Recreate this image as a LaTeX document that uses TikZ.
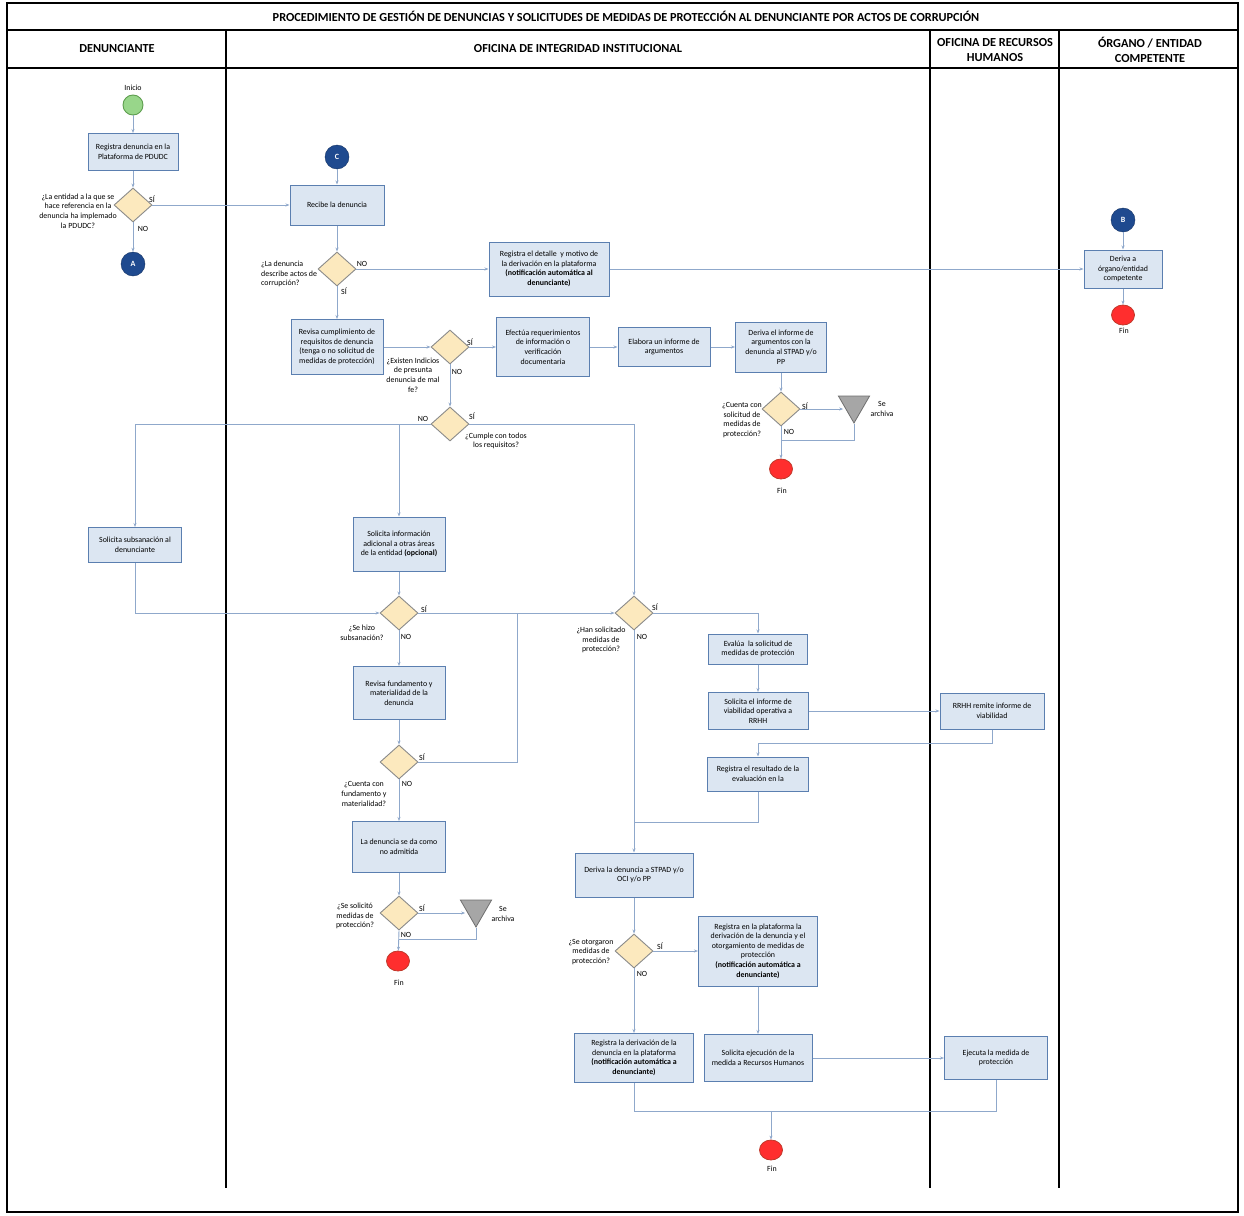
\documentclass[tikz,border=0pt]{standalone}
\usepackage{fontspec}
\setmainfont{Carlito}
\usetikzlibrary{shapes.geometric,arrows.meta}
\definecolor{boxf}{HTML}{DCE6F2}
\definecolor{boxb}{HTML}{5B7FB0}
\definecolor{diaf}{HTML}{FCE9BE}
\definecolor{diab}{HTML}{8A8A8A}
\definecolor{connc}{HTML}{8FA8CB}
\definecolor{navy}{HTML}{1F4A8F}
\definecolor{startf}{HTML}{98D68A}
\definecolor{startb}{HTML}{5E9E4F}
\definecolor{finf}{HTML}{FF2E2E}
\definecolor{finb}{HTML}{C0392B}
\definecolor{trif}{HTML}{A6A6A6}
\definecolor{trib}{HTML}{6F6F6F}
\begin{document}
\begin{tikzpicture}[x=1pt,y=-1pt,
  font=\fontsize{7.9}{9.6}\selectfont,
  box/.style={draw=boxb, fill=boxf, line width=1pt, align=center, inner sep=1pt},
  dia/.style={diamond, draw=diab, fill=diaf, line width=0.9pt, minimum width=38, minimum height=34, inner sep=0},
  lbl/.style={align=center, inner sep=0},
  hdr/.style={align=center, inner sep=0, font=\fontsize{12.3}{15.5}\selectfont\bfseries},
  conc/.style={circle, fill=navy, draw=navy!70!black, minimum size=24, inner sep=0, text=white, font=\fontsize{8}{9}\selectfont\bfseries},
  startc/.style={circle, fill=startf, draw=startb, line width=0.9pt, minimum size=20, inner sep=0},
  finc/.style={ellipse, fill=finf, draw=finb, line width=0.8pt, minimum width=23, minimum height=20, inner sep=0},
  tri/.style={regular polygon, regular polygon sides=3, shape border rotate=180, minimum size=36, inner sep=0, fill=trif, draw=trib, line width=0.8pt},
  conn/.style={draw=connc, line width=0.9pt},
  arr/.style={conn, -{Stealth[length=4pt,width=3pt]}},
  lane/.style={draw=black, line width=1.3pt}
]
\useasboundingbox (0,0) rectangle (1244,1215);
\fill[white] (0,0) rectangle (1244,1215);
% frame and lanes
\draw[lane] (7,3) rectangle (1238,1212);
\draw[lane] (7,30) -- (1238,30);
\draw[lane] (7,68) -- (1238,68);
\draw[lane] (226,30) -- (226,1188);
\draw[lane] (930,30) -- (930,1188);
\draw[lane] (1059,30) -- (1059,1188);
\node[hdr] (title) at (626,16) {PROCEDIMIENTO DE GESTIÓN DE DENUNCIAS Y SOLICITUDES DE MEDIDAS DE PROTECCIÓN AL DENUNCIANTE POR ACTOS DE CORRUPCIÓN};
\node[hdr] (h1) at (117,49) {DENUNCIANTE};
\node[hdr] (h2) at (578,49) {OFICINA DE INTEGRIDAD INSTITUCIONAL};
\node[hdr] (h3) at (995,50) {OFICINA DE RECURSOS\\HUMANOS};
\node[hdr] (h4) at (1150,50) {ÓRGANO / ENTIDAD\\COMPETENTE};

% left lane
\node[startc] (inicio) at (133,105) {};
\node[lbl] (tinicio) at (133,88) {Inicio};
\node[box, minimum width=90, minimum height=37] (b1) at (133,152) {Registra denuncia en la\\Plataforma de PDUDC};
\node[dia] (d1) at (133,205) {};
\node[lbl] (q1) at (78,211) {¿La entidad a la que se\\hace referencia en la\\denuncia ha implemado\\la PDUDC?};
\node[lbl] (s1) at (152,199) {SÍ};
\node[lbl] (n1) at (143,229) {NO};
\node[conc] (cA) at (133,264) {A};

% center top
\node[conc] (cC) at (337,157) {C};
\node[box, minimum width=94, minimum height=40] (brec) at (337,205) {Recibe la denuncia};
\node[dia] (d2) at (337,269) {};
\node[lbl, align=left, anchor=west] (q2) at (261,274) {¿La denuncia\\describe actos de\\corrupción?};
\node[lbl] (n2) at (362,264) {NO};
\node[lbl] (s2) at (344,291) {SÍ};
\node[box, minimum width=120, minimum height=54] (bregdet) at (549,269) {Registra el detalle \ y motivo de\\la derivación en la plataforma\\\textbf{(notificación automática al}\\\textbf{denunciante)}};
\node[conc] (cB) at (1123,220) {B};
\node[box, minimum width=78, minimum height=38] (bderiva) at (1123,269) {Deriva a\\órgano/entidad\\competente};
\node[finc] (fin0) at (1123,315) {};
\node[lbl] (tfin0) at (1124,331) {Fin};

\node[box, minimum width=92, minimum height=55] (brevisa) at (337,347) {Revisa cumplimiento de\\requisitos de denuncia\\(tenga o no solicitud de\\medidas de protección)};
\node[dia] (d3) at (450,347) {};
\node[lbl] (q3) at (413,375) {¿Existen Indicios\\de presunta\\denuncia de mal\\fe?};
\node[lbl] (s3) at (470,342) {SÍ};
\node[lbl] (n3) at (457,372) {NO};
\node[box, minimum width=93, minimum height=59] (befect) at (543,347) {Efectúa requerimientos\\de información o\\verificación\\documentaria};
\node[box, minimum width=92, minimum height=39] (belab) at (664,347) {Elabora un informe de\\argumentos};
\node[box, minimum width=91, minimum height=50] (bderinf) at (781,347) {Deriva el informe de\\argumentos con la\\denuncia al STPAD y/o\\PP};
\node[dia] (d4) at (781,409) {};
\node[lbl] (q4) at (742,420) {¿Cuenta con\\solicitud de\\medidas de\\protección?};
\node[lbl] (s4) at (805,406) {SÍ};
\node[lbl] (n4) at (789,432) {NO};
\node[tri] (t1) at (854,405) {};
\node[lbl] (ta1) at (882,409) {Se\\archiva};
\node[finc] (fin1) at (781,469) {};
\node[lbl] (tfin1) at (782,491) {Fin};

\node[dia] (d5) at (450,424) {};
\node[lbl] (n5) at (423,419) {NO};
\node[lbl] (s5) at (472,416) {SÍ};
\node[lbl] (q5) at (496,441) {¿Cumple con todos\\los requisitos?};
\coordinate (j5) at (399,424);

\node[box, minimum width=93, minimum height=35] (bsubs) at (135,545) {Solicita subsanación al\\denunciante};
\node[box, minimum width=92, minimum height=54] (binfo) at (399,544) {Solicita información\\adicional a otras áreas\\de la entidad \textbf{(opcional)}};
\node[dia] (d6) at (399,613) {};
\node[lbl] (s6) at (424,609) {SÍ};
\node[lbl] (n6) at (406,637) {NO};
\node[lbl] (q6) at (362,633) {¿Se hizo\\subsanación?};
\node[dia] (d7) at (634,613) {};
\node[lbl] (s7) at (655,607) {SÍ};
\node[lbl] (n7) at (642,637) {NO};
\node[lbl] (q7) at (601,640) {¿Han solicitado\\medidas de\\protección?};
\node[box, minimum width=92, minimum height=53] (brevf) at (399,693) {Revisa fundamento y\\materialidad de la\\denuncia};
\node[dia] (d8) at (399,762) {};
\node[lbl] (s8) at (422,757) {SÍ};
\node[lbl] (n8) at (407,784) {NO};
\node[lbl] (q8) at (364,794) {¿Cuenta con\\fundamento y\\materialidad?};
\coordinate (j8) at (517,613);
\node[box, minimum width=93, minimum height=51] (bnoadm) at (399,847) {La denuncia se da como\\no admitida};
\node[dia] (d9) at (399,913) {};
\node[lbl] (q9) at (355,916) {¿Se solicitó\\medidas de\\protección?};
\node[lbl] (s9) at (422,908) {SÍ};
\node[lbl] (n9) at (406,935) {NO};
\node[tri] (t2) at (476,909) {};
\node[lbl] (ta2) at (503,914) {Se\\archiva};
\coordinate (j9) at (399,939);
\node[finc] (fin2) at (398,961) {};
\node[lbl] (tfin2) at (399,983) {Fin};

\node[box, minimum width=99, minimum height=30] (beval) at (758,649) {Evalúa \ la solicitud de\\medidas de protección};
\node[box, minimum width=100, minimum height=37] (bsolinf) at (758,711) {Solicita el informe de\\viabilidad operativa a\\RRHH};
\node[box, minimum width=104, minimum height=36] (brrhh) at (992,711) {RRHH remite informe de\\viabilidad};
\coordinate (j10) at (758,743);
\node[box, minimum width=101, minimum height=34] (bregres) at (758,774) {Registra el resultado de la\\evaluación en la};
\coordinate (j11) at (634,822);
\node[box, minimum width=118, minimum height=44] (bderden) at (634,875) {Deriva la denuncia a STPAD y/o\\OCI y/o PP};
\node[dia] (d10) at (634,951) {};
\node[lbl] (q10) at (591,952) {¿Se otorgaron\\medidas de\\protección?};
\node[lbl] (s10) at (660,946) {SÍ};
\node[lbl] (n10) at (642,974) {NO};
\node[box, minimum width=119, minimum height=70] (bregplat) at (758,951) {Registra en la plataforma la\\derivación de la denuncia y el\\otorgamiento de medidas de\\protección\\\textbf{(notificación automática a}\\\textbf{denunciante)}};
\node[box, minimum width=119, minimum height=49] (bregder) at (634,1058) {Registra la derivación de la\\denuncia en la plataforma\\\textbf{(notificación automática a}\\\textbf{denunciante)}};
\node[box, minimum width=108, minimum height=47] (bsolej) at (758,1058) {Solicita ejecución de la\\medida a Recursos Humanos};
\node[box, minimum width=103, minimum height=43] (bejec) at (996,1058) {Ejecuta la medida de\\protección};
\coordinate (j12) at (996,1111);
\coordinate (j13) at (771,1111);
\node[finc] (fin3) at (771,1150) {};
\node[lbl] (tfin3) at (772,1169) {Fin};

% connectors
\draw[arr] (inicio) -- (b1);
\draw[arr] (b1) -- (d1);
\draw[arr] (d1.east) -- (brec.west);
\draw[arr] (d1.south) -- (cA);
\draw[arr] (cC) -- (brec);
\draw[arr] (brec) -- (d2);
\draw[arr] (d2.east) -- (bregdet.west);
\draw[arr] (bregdet.east) -- (bderiva.west);
\draw[arr] (cB) -- (bderiva);
\draw[arr] (bderiva) -- (fin0);
\draw[arr] (d2.south) -- (brevisa.north);
\draw[arr] (brevisa.east) -- (d3.west);
\draw[arr] (d3.east) -- (befect.west);
\draw[arr] (befect.east) -- (belab.west);
\draw[arr] (belab.east) -- (bderinf.west);
\draw[arr] (bderinf.south) -- (d4.north);
\draw[arr] (d4.east) -- (d4.east -| t1.west);
\draw[conn] (t1.corner 1) |- (d4.south |- 0,440);
\draw[arr] (d4.south) -- (fin1);
\draw[arr] (d3.south) -- (d5.north);
\draw[arr] (d5.west) -| (bsubs.north);
\draw[arr] (j5) -- (binfo.north);
\draw[arr] (d5.east) -| (d7.north);
\draw[arr] (bsubs.south) |- (d6.west);
\draw[arr] (binfo) -- (d6);
\draw[arr] (d6.east) -- (d7.west);
\draw[arr] (d6.south) -- (brevf.north);
\draw[arr] (brevf) -- (d8);
\draw[conn] (d8.east) -| (j8);
\draw[arr] (d8.south) -- (bnoadm.north);
\draw[arr] (bnoadm) -- (d9);
\draw[arr] (d9.east) -- (d9.east -| t2.west);
\draw[conn] (t2.corner 1) |- (j9);
\draw[arr] (d9.south) -- (fin2);
\draw[arr] (d7.east) -| (beval.north);
\draw[arr] (beval) -- (bsolinf);
\draw[arr] (bsolinf.east) -- (brrhh.west);
\draw[arr] (brrhh.south) |- (j10) -- (bregres.north);
\draw[conn] (bregres.south) |- (j11);
\draw[arr] (d7.south) -- (bderden.north);
\draw[arr] (bderden) -- (d10);
\draw[arr] (d10.east) -- (bregplat.west);
\draw[arr] (d10.south) -- (bregder.north);
\draw[arr] (bregplat) -- (bsolej);
\draw[arr] (bsolej.east) -- (bejec.west);
\draw[conn] (bregder.south) |- (j12) -- (bejec.south);
\draw[arr] (j13) -- (fin3);
\end{tikzpicture}
\end{document}
